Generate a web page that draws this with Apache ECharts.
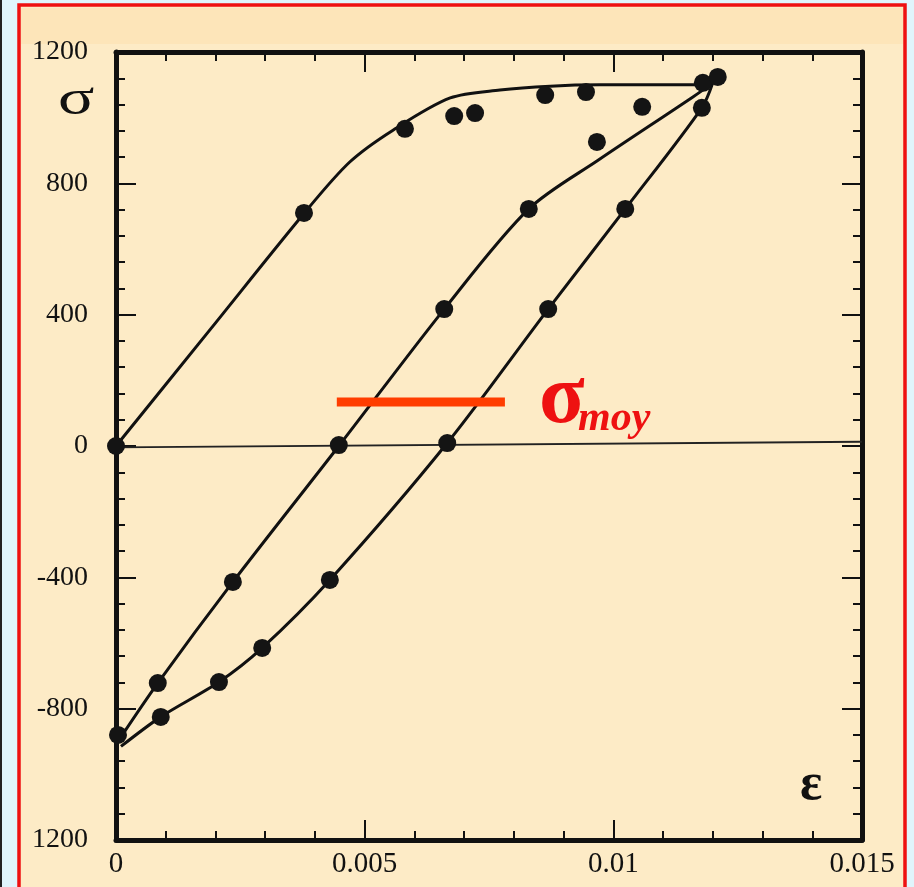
<!DOCTYPE html>
<html><head><meta charset="utf-8">
<script src="https://cdn.jsdelivr.net/npm/echarts/dist/echarts.min.js"></script>
<style>html,body{margin:0;padding:0;background:#e0f5fc;}#c{width:914px;height:887px;}</style>
</head><body><div id="c"></div>
<script>
// ---- axis ticks ----
const xTicks = [0, 0.005, 0.01, 0.015];
const xTickLabels = ['0', '0.005', '0.01', '0.015'];
const yTicks = [-1200, -800, -400, 0, 400, 800, 1200];
const yTickLabels = ['1200', '-800', '-400', '0', '400', '800', '1200'];

// ---- curves (strain, stress MPa) ----
const loadCurveStrain = [0, 0.0019, 0.0038, 0.0047, 0.00557, 0.00672, 0.00772, 0.00873, 0.00973, 0.0118];
const loadCurveStress = [0, 356, 712, 865, 962, 1060, 1084, 1096, 1100, 1100];

const upperCurveStrain = [0.0001, 0.00084, 0.00235, 0.00448, 0.0066, 0.0083, 0.0097, 0.0116, 0.0120];
const upperCurveStress = [-886, -722, -414, 0, 417, 722, 871, 1063, 1106];

const lowerCurveStrain = [0.0001, 0.0009, 0.00207, 0.00294, 0.0043, 0.00666, 0.00869, 0.01024, 0.01178, 0.0120];
const lowerCurveStress = [-915, -825, -719, -615, -408, 9, 417, 722, 1030, 1106];

const zeroLineStrain = [0, 0.015];
const zeroLineStress = [-4, 13];

// ---- measured points ----
const loadPtsStrain = [0, 0.00378, 0.00581, 0.00680, 0.00722, 0.00863, 0.00945, 0.00967, 0.01058, 0.01180, 0.01210, 0.01178];
const loadPtsStress = [0, 710, 966, 1005, 1014, 1069, 1078, 926, 1033, 1106, 1124, 1030];

const upperPtsStrain = [0.00004, 0.00084, 0.00235, 0.00448, 0.0066, 0.0083];
const upperPtsStress = [-880, -722, -414, 3, 417, 722];

const lowerPtsStrain = [0.0009, 0.00207, 0.00294, 0.0043, 0.00666, 0.00869, 0.01024];
const lowerPtsStress = [-825, -719, -615, -408, 9, 417, 722];

// ---- mean stress bar ----
const meanStrain = [0.00444, 0.00782];
const meanStress = [134, 134];

const zip = (a, b) => a.map((v, i) => [v, b[i]]);
const fmtX = v => { const i = xTicks.findIndex(t => Math.abs(t - v) < 1e-9); return i < 0 ? '' : xTickLabels[i]; };
const fmtY = v => { const i = yTicks.findIndex(t => Math.abs(t - v) < 1e-6); return i < 0 ? '' : yTickLabels[i]; };

const INK = '#111';
const serif = '"Liberation Serif", "DejaVu Serif", serif';

const axisCommon = {
  axisLine: { show: true, onZero: false, lineStyle: { color: INK, width: 5 } },
  axisTick: { show: true, inside: true, length: 20, lineStyle: { color: INK, width: 2 } },
  minorTick: { show: true, splitNumber: 5, length: 9, lineStyle: { color: INK, width: 2 } },
  splitLine: { show: false }
};

const curveStyle = { color: INK, width: 3 };
const dotStyle = { color: '#141414', opacity: 1 };

const chart = echarts.init(document.getElementById('c'));
chart.setOption({
  backgroundColor: '#e0f5fc',
  animation: false,
  graphic: [
    { type: 'rect', z: -10, shape: { x: 19, y: 5, width: 886, height: 890 }, style: { fill: '#fdebc6', stroke: '#ee1111', lineWidth: 3.5 } },
    { type: 'rect', z: -9, shape: { x: 21, y: 8, width: 882, height: 36 }, style: { fill: '#fde5b9' } },
    { type: 'rect', z: -9, shape: { x: 0, y: 0, width: 2, height: 887 }, style: { fill: '#222' } },
    { type: 'text', z: 20, left: 58, top: 76, scaleX: 1.35, style: { text: 'σ', font: '50px ' + serif, fill: INK } },
    { type: 'text', z: 20, left: 800, top: 760, style: { text: 'ε', font: 'bold 52px ' + serif, fill: INK } },
    { type: 'text', z: 20, left: 539, top: 358, style: { text: 'σ', font: 'bold 84px ' + serif, fill: '#ee1111' } },
    { type: 'text', z: 20, left: 578, top: 398, style: { text: 'moy', font: 'italic bold 42px ' + serif, fill: '#ee1111' } }
  ],
  grid: { left: 116, top: 52, width: 746, height: 788, containLabel: false, outerBoundsMode: 'none' },
  xAxis: [
    Object.assign({
      type: 'value', position: 'bottom', min: 0, max: 0.015, interval: 0.005,
      axisLabel: { show: true, margin: 10, formatter: fmtX, color: INK, fontFamily: serif, fontSize: 29 }
    }, axisCommon),
    Object.assign({
      type: 'value', position: 'top', min: 0, max: 0.015, interval: 0.005,
      axisLabel: { show: false }
    }, axisCommon)
  ],
  yAxis: [
    Object.assign({
      type: 'value', position: 'left', min: -1200, max: 1200, interval: 400,
      axisLabel: { show: true, margin: 28, padding: [16, 0, 0, 0], formatter: fmtY, color: INK, fontFamily: serif, fontSize: 28 }
    }, axisCommon),
    Object.assign({
      type: 'value', position: 'right', min: -1200, max: 1200, interval: 400,
      axisLabel: { show: false }
    }, axisCommon)
  ],
  series: [
    { type: 'line', data: zip(zeroLineStrain, zeroLineStress), showSymbol: false, lineStyle: { color: '#222', width: 1.8 }, z: 2 },
    { type: 'line', data: zip(loadCurveStrain, loadCurveStress), smooth: 0.3, showSymbol: false, lineStyle: curveStyle, z: 3 },
    { type: 'line', data: zip(upperCurveStrain, upperCurveStress), smooth: 0.3, showSymbol: false, lineStyle: curveStyle, z: 3 },
    { type: 'line', data: zip(lowerCurveStrain, lowerCurveStress), smooth: 0.3, showSymbol: false, lineStyle: curveStyle, z: 3 },
    { type: 'scatter', data: zip(loadPtsStrain, loadPtsStress), symbolSize: 18, itemStyle: dotStyle, z: 4 },
    { type: 'scatter', data: zip(upperPtsStrain, upperPtsStress), symbolSize: 18, itemStyle: dotStyle, z: 4 },
    { type: 'scatter', data: zip(lowerPtsStrain, lowerPtsStress), symbolSize: 18, itemStyle: dotStyle, z: 4 },
    { type: 'line', data: zip(meanStrain, meanStress), showSymbol: false, lineStyle: { color: '#ff3d00', width: 9, cap: 'butt' }, z: 10 }
  ]
});
</script>
</body></html>
